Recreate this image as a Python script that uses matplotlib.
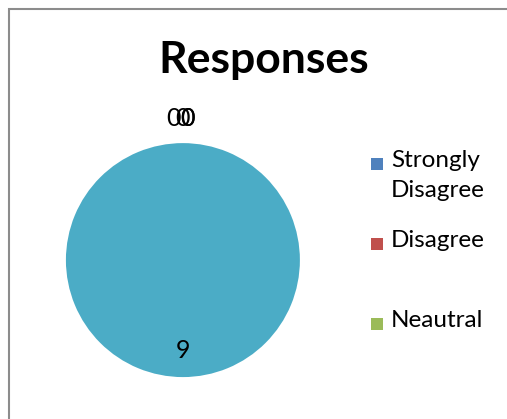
import matplotlib.pyplot as plt
import numpy as np
from matplotlib.patches import Rectangle

plt.rcParams['font.family'] = ['Lato', 'DejaVu Sans']

# data
categories = ['Strongly\nDisagree', 'Disagree', 'Neautral', 'Agree', 'Strongly Agree']
responses = [0, 0, 0, 0, 9]
colors = ['#4F81BD', '#C0504D', '#9BBB59', '#8064A2', '#4BACC6']
shown_in_legend = 3  # Excel legend only fits the first three entries

W, H = 507, 419
fig = plt.figure(figsize=(W / 100, H / 100), dpi=100)

# chart area border (cropped at right/bottom)
fig.patches.append(Rectangle((9 / W, -0.5), 2, 1 - 9 / H + 0.5, transform=fig.transFigure,
                             fill=False, edgecolor='#8c8c8c', linewidth=1.5))

fig.text(264 / W, 1 - 60 / H, 'Responses', ha='center', va='center',
         fontsize=32, fontweight='bold')

ax = fig.add_axes([0.130, 0.100, 0.4615, 0.5585])
wedges, _ = ax.pie(responses, colors=colors, startangle=90, counterclock=False,
                   radius=1.0, wedgeprops=dict(linewidth=0))
ax.set_xlim(-1, 1)
ax.set_ylim(-1, 1)
ax.set_aspect('equal')
ax.axis('off')

# data labels (Excel piles the zero labels up at the top)
zero_shift = [-7, -0.5, 3, 3]
zi = 0
for w, v in zip(wedges, responses):
    mid = np.deg2rad((w.theta1 + w.theta2) / 2)
    if v == 0:
        r = 1.21
        dx = zero_shift[zi]
        zi += 1
    else:
        r = 0.77
        dx = 0
    ax.annotate(str(v), (r * np.cos(mid), r * np.sin(mid)), xytext=(dx, 0),
                textcoords='offset points', ha='center', va='center',
                fontsize=18, annotation_clip=False)

# legend
for i in range(shown_in_legend):
    yc = 1 - (164 + 80 * i) / H
    fig.patches.append(Rectangle((371 / W, yc - 6 / H), 12 / W, 12 / H,
                                 transform=fig.transFigure, facecolor=colors[i],
                                 edgecolor='none'))
    fig.text(391 / W, yc + 14 / H, categories[i], ha='left', va='top',
             fontsize=17.5, linespacing=1.55)

plt.savefig('out.png', dpi=100)
